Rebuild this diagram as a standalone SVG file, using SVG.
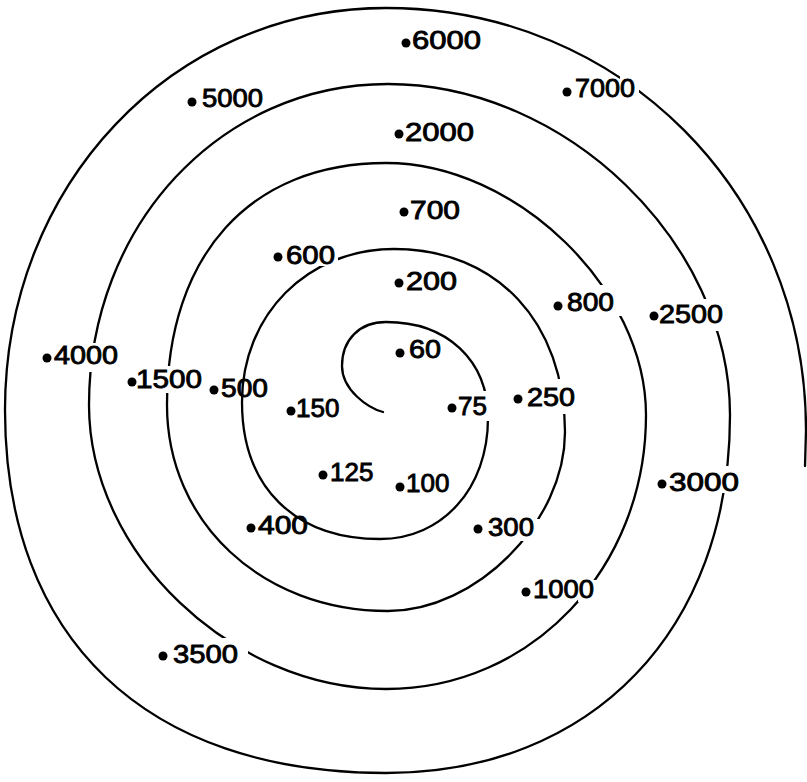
<svg xmlns="http://www.w3.org/2000/svg" width="807" height="782" viewBox="0 0 807 782">
<style>
.sp{fill:none;stroke:#000;stroke-width:2.3;stroke-linecap:round}
.d{fill:#000}
text{font-family:"Liberation Sans",Arial,sans-serif;font-size:26px;fill:#000;stroke:#000;stroke-width:0.9}
</style>
<defs>
<mask id="gaps" maskUnits="userSpaceOnUse" x="0" y="0" width="807" height="782">
<rect x="0" y="0" width="807" height="782" fill="#fff"/>
<rect x="478" y="391" width="20" height="30" fill="#000"/>
<rect x="312" y="250" width="26" height="16" fill="#000"/>
<rect x="550" y="379" width="22" height="35" fill="#000"/>
<rect x="521" y="519" width="24" height="22" fill="#000"/>
<rect x="158" y="366" width="20" height="27" fill="#000"/>
<rect x="600" y="285" width="26" height="31" fill="#000"/>
<rect x="578" y="580" width="24" height="22" fill="#000"/>
<rect x="222" y="638" width="26" height="19" fill="#000"/>
<rect x="80" y="343" width="18" height="29" fill="#000"/>
<rect x="698" y="299" width="22" height="32" fill="#000"/>
<rect x="718" y="466" width="18" height="27" fill="#000"/>
<rect x="620" y="76" width="19" height="17" fill="#000"/>
</mask>
</defs>
<g id="spiral">
<path class="sp" mask="url(#gaps)" d="M383,412 C368,408 342,390 342,366 C342,339.6 359.6,322 386,322 C447.2,322 488,360.4 488,418 C488,488.2 442.6,539 380,539 C294.4,539 242,486.9 242,402 C242,314.8 307.4,249 394,249 C496.6,249 565,322.2 565,432 C565,521.5 476.5,611 388,611 C262,611 167,522.4 167,405 C167,255 250.2,163 386,163 C516,163 646,289 646,415 C646,568.4 531.6,689 386,689 C231.6,689 89,552.7 89,405 C89,225.2 220.6,84 388,84 C565.8,84 730,242.9 730,415 C730,629.8 592.4,773 386,773 C146,773 5,638.7 5,410 C5,184.9 172.4,8 386,8 C621.2,8 806,193.7 806,430 L805,466"/>
</g>
<g id="n6000"><circle class="d" cx="406" cy="43" r="4.5"/><text x="412" y="49" textLength="69" lengthAdjust="spacingAndGlyphs">6000</text></g>
<g id="n7000"><circle class="d" cx="567" cy="92" r="4.5"/><text x="575" y="97" textLength="60" lengthAdjust="spacingAndGlyphs">7000</text></g>
<g id="n5000"><circle class="d" cx="192" cy="102" r="4.5"/><text x="202" y="107" textLength="61" lengthAdjust="spacingAndGlyphs">5000</text></g>
<g id="n2000"><circle class="d" cx="399" cy="134" r="4.5"/><text x="405" y="141" textLength="69" lengthAdjust="spacingAndGlyphs">2000</text></g>
<g id="n700"><circle class="d" cx="404" cy="212" r="4.5"/><text x="410" y="219" textLength="50" lengthAdjust="spacingAndGlyphs">700</text></g>
<g id="n600"><circle class="d" cx="278" cy="257" r="4.5"/><text x="286" y="264" textLength="49" lengthAdjust="spacingAndGlyphs">600</text></g>
<g id="n200"><circle class="d" cx="399" cy="283" r="4.5"/><text x="406" y="290" textLength="51" lengthAdjust="spacingAndGlyphs">200</text></g>
<g id="n800"><circle class="d" cx="558" cy="306" r="4.5"/><text x="567" y="311" textLength="47" lengthAdjust="spacingAndGlyphs">800</text></g>
<g id="n2500"><circle class="d" cx="654" cy="316" r="4.5"/><text x="659" y="323" textLength="64" lengthAdjust="spacingAndGlyphs">2500</text></g>
<g id="n60"><circle class="d" cx="400" cy="353" r="4.5"/><text x="409" y="358" textLength="32" lengthAdjust="spacingAndGlyphs">60</text></g>
<g id="n4000"><circle class="d" cx="47" cy="358" r="4.5"/><text x="54" y="364" textLength="64" lengthAdjust="spacingAndGlyphs">4000</text></g>
<g id="n1500"><circle class="d" cx="132" cy="382" r="4.5"/><text x="136" y="388" textLength="66" lengthAdjust="spacingAndGlyphs">1500</text></g>
<g id="n500"><circle class="d" cx="214" cy="390" r="4.5"/><text x="221" y="397" textLength="47" lengthAdjust="spacingAndGlyphs">500</text></g>
<g id="n150"><circle class="d" cx="291" cy="411" r="4.5"/><text x="296" y="417">150</text></g>
<g id="n75"><circle class="d" cx="452" cy="408" r="4.5"/><text x="458" y="415">75</text></g>
<g id="n250"><circle class="d" cx="518" cy="399" r="4.5"/><text x="527" y="406" textLength="48" lengthAdjust="spacingAndGlyphs">250</text></g>
<g id="n125"><circle class="d" cx="323" cy="475" r="4.5"/><text x="330" y="481">125</text></g>
<g id="n100"><circle class="d" cx="400" cy="487" r="4.5"/><text x="406" y="492">100</text></g>
<g id="n3000"><circle class="d" cx="662" cy="484" r="4.5"/><text x="669" y="491" textLength="70" lengthAdjust="spacingAndGlyphs">3000</text></g>
<g id="n400"><circle class="d" cx="251" cy="528" r="4.5"/><text x="258" y="534" textLength="50" lengthAdjust="spacingAndGlyphs">400</text></g>
<g id="n300"><circle class="d" cx="478" cy="529" r="4.5"/><text x="488" y="536" textLength="46" lengthAdjust="spacingAndGlyphs">300</text></g>
<g id="n1000"><circle class="d" cx="526" cy="592" r="4.5"/><text x="533" y="598" textLength="61" lengthAdjust="spacingAndGlyphs">1000</text></g>
<g id="n3500"><circle class="d" cx="163" cy="656" r="4.5"/><text x="173" y="663" textLength="65" lengthAdjust="spacingAndGlyphs">3500</text></g>
</svg>
